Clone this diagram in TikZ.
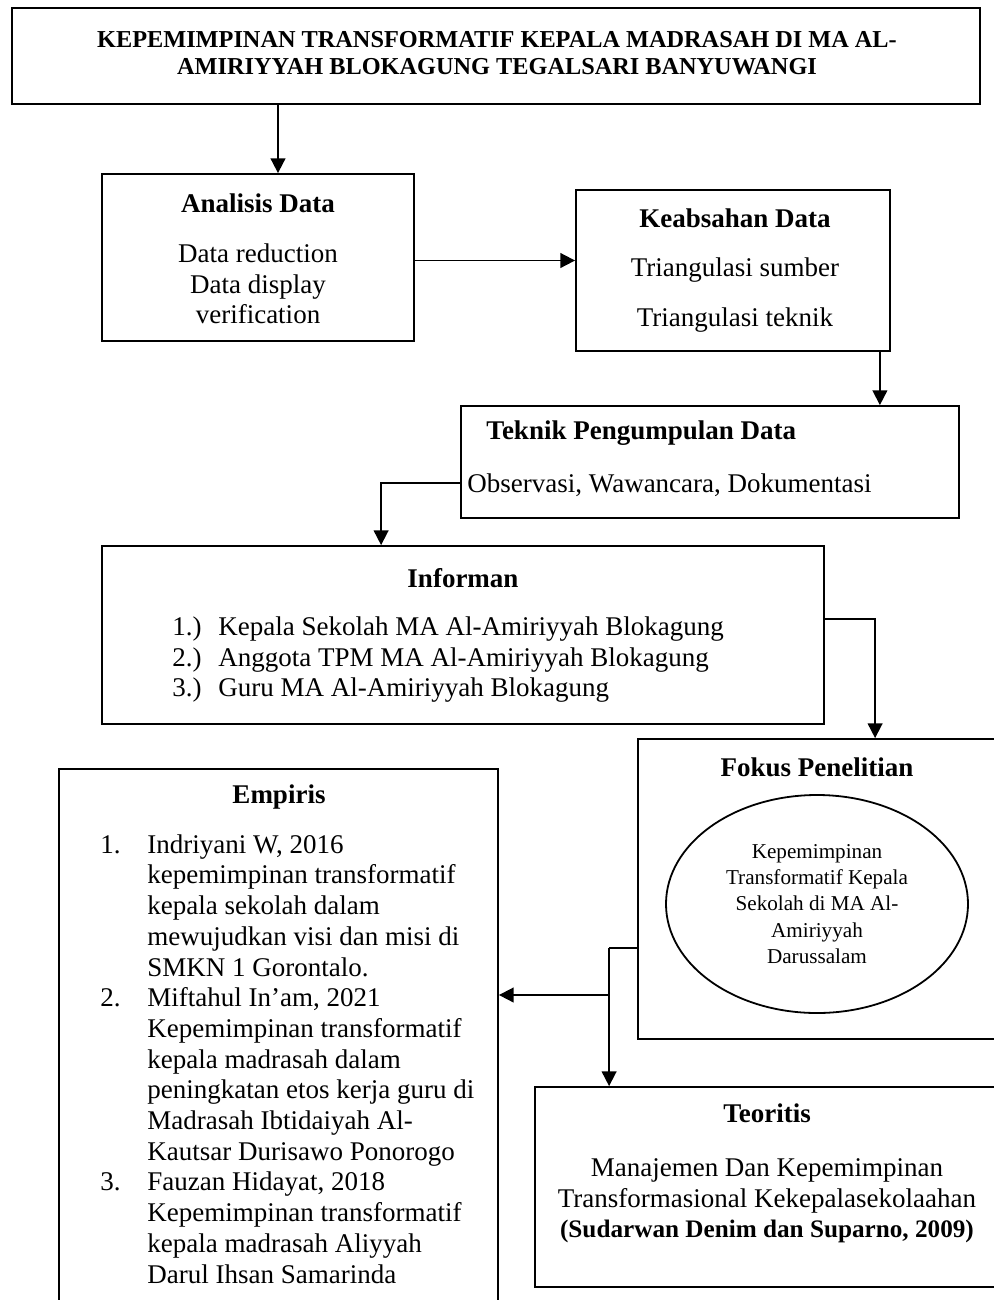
\documentclass[tikz,border=0pt]{standalone}
\usepackage{fontspec}
\setmainfont{Liberation Serif}
\usetikzlibrary{arrows.meta,calc,shapes.geometric}
\newcommand{\satuan}{0.4444pt}
\newcommand{\isi}{\fontsize{12}{13.64}\selectfont}
\newcommand{\kecil}{\fontsize{9.4}{11.7}\selectfont}
\newcommand{\besar}{\fontsize{10.8}{11.8}\selectfont\bfseries}
\newcommand{\sumber}{\fontsize{11.2}{13.64}\selectfont\bfseries}
\tikzset{
  kotak/.style 2 args={draw, line width=0.8pt, inner sep=0pt,
    minimum width=#1*\satuan, minimum height=#2*\satuan},
  panah/.style={-{Triangle[length=6.5pt,width=6.5pt]}, line width=0.8pt},
  garis/.style={line width=0.8pt},
  teks/.style={font=\isi, align=center, inner sep=0pt},
  tebal/.style={font=\isi\bfseries, align=center, inner sep=0pt},
}
\begin{document}
\begin{tikzpicture}[x=0.4444pt,y=-0.4444pt]
\useasboundingbox (0,0) rectangle (993,1300);
% kotak
\node[kotak={968}{96}] (judul) at (496,56) {};
\node[kotak={312}{167}] (analisis) at (258,257.5) {};
\node[kotak={314}{161}] (keabsahan) at (733,270.5) {};
\node[kotak={498}{112}] (teknik) at (710,462) {};
\node[kotak={722}{178}] (informan) at (463,635) {};
\node[kotak={360}{300}] (fokus) at (818,889) {};
\node[kotak={439}{551}] (empiris) at (278.5,1044.5) {};
\node[kotak={465}{200}] (teoritis) at (767.5,1187) {};
% isi kotak
\node[font=\besar, align=center, inner sep=0pt] (judul-teks) at (497,53)
  {KEPEMIMPINAN TRANSFORMATIF KEPALA MADRASAH DI MA AL-\\
   AMIRIYYAH BLOKAGUNG TEGALSARI BANYUWANGI};
\node[tebal] (analisis-judul) at (258,203) {Analisis Data};
\node[teks] (analisis-isi) at (258,284) {Data reduction\\Data display\\verification};
\node[tebal] (keabsahan-judul) at (735,218) {Keabsahan Data};
\node[teks] (keabsahan-isi1) at (735,270) {Triangulasi sumber};
\node[teks] (keabsahan-isi2) at (735,320) {Triangulasi teknik};
\node[tebal, anchor=west] (teknik-judul) at (486,433) {Teknik Pengumpulan Data};
\node[teks, anchor=west] (teknik-isi) at (467,485) {Observasi, Wawancara, Dokumentasi};
\node[tebal] (informan-judul) at (463,578) {Informan};
\node[teks, anchor=west] (informan-isi) at (172,660) {%
  \begin{tabular}{@{}p{20.4pt}@{}l@{}}
  1.) & Kepala Sekolah MA Al-Amiriyyah Blokagung\\
  2.) & Anggota TPM MA Al-Amiriyyah Blokagung\\
  3.) & Guru MA Al-Amiriyyah Blokagung
  \end{tabular}};
\node[tebal] (fokus-judul) at (817,767) {Fokus Penelitian};
\node[draw, ellipse, line width=0.8pt, inner sep=0pt, minimum width=302*\satuan,
  minimum height=218*\satuan, font=\kecil, align=center] (lingkaran) at (817,904)
  {Kepemimpinan\\Transformatif Kepala\\Sekolah di MA Al-\\Amiriyyah\\Darussalam};
\node[tebal] (empiris-judul) at (279,797) {Empiris};
\node[teks, anchor=west] (empiris-isi) at (100,1062) {%
  \begin{tabular}{@{}p{20.9pt}@{}l@{}}
  1. & Indriyani W, 2016\\
     & kepemimpinan transformatif\\
     & kepala sekolah dalam\\
     & mewujudkan visi dan misi di\\
     & SMKN 1 Gorontalo.\\
  2. & Miftahul In’am, 2021\\
     & Kepemimpinan transformatif\\
     & kepala madrasah dalam\\
     & peningkatan etos kerja guru di\\
     & Madrasah Ibtidaiyah Al-\\
     & Kautsar Durisawo Ponorogo\\
  3. & Fauzan Hidayat, 2018\\
     & Kepemimpinan transformatif\\
     & kepala madrasah Aliyyah\\
     & Darul Ihsan Samarinda
  \end{tabular}};
\node[tebal] (teoritis-judul) at (767,1113) {Teoritis};
\node[teks] (teoritis-isi) at (767,1201)
  {Manajemen Dan Kepemimpinan\\Transformasional Kekepalasekolaahan\\
   {\sumber (Sudarwan Denim dan Suparno, 2009)}};
% panah
\coordinate (a1) at ($(analisis.north)+(20,0)$);
\draw[panah] (a1 |- judul.south) -- (a1);
\coordinate (a2) at ($(analisis.east)+(0,3)$);
\draw[panah] (a2) -- (a2 -| keabsahan.west);
\coordinate (a3) at ($(keabsahan.south east)+(-11,0)$);
\draw[panah] (a3) -- (a3 |- teknik.north);
\draw[panah] ($(teknik.west)+(0,21)$) -| ($(informan.north west)+(280,0)$);
\draw[panah] ($(informan.east)+(0,-16)$) -| ($(fokus.north west)+(238,0)$);
\coordinate (c1) at ($(fokus.west)+(0,59)$);
\coordinate (c2) at ($(c1)+(-28,0)$);
\coordinate (c3) at ($(c2)+(0,47)$);
\draw[garis] (c1) -- (c2);
\draw[panah] (c2) -- (c2 |- teoritis.north);
\draw[panah] (c3) -- (c3 -| empiris.east);
\end{tikzpicture}
\end{document}
